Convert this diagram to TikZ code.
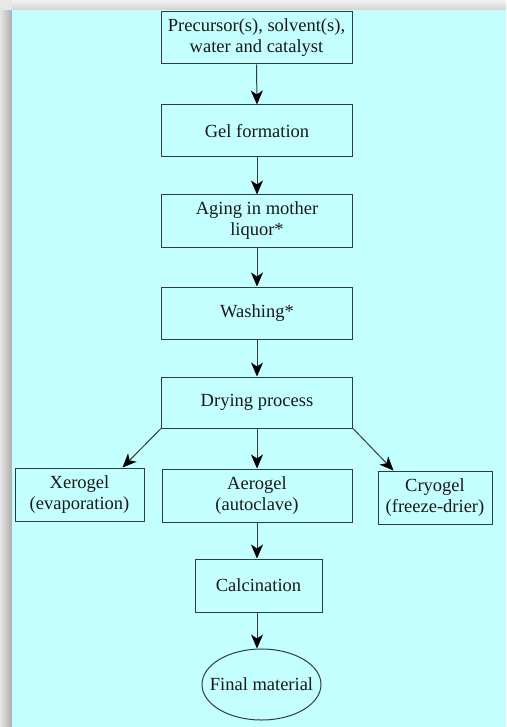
\documentclass[tikz,border=0pt]{standalone}
\usepackage{fontspec}
\setmainfont{Liberation Serif}
\usetikzlibrary{arrows.meta,shapes.geometric,calc}
\definecolor{panel}{RGB}{196,255,255}
\definecolor{ink}{RGB}{25,25,25}
\definecolor{edge}{RGB}{50,60,60}
\begin{document}
\begin{tikzpicture}[x=1pt,y=-1pt,
  box/.style={draw=edge,line width=1pt,rectangle,align=center,text=ink,
    font=\fontsize{18.5}{21}\selectfont,inner sep=0pt},
  oval/.style={draw=edge,line width=1pt,ellipse,align=center,text=ink,
    font=\fontsize{18.5}{21}\selectfont,inner sep=0pt},
  arr/.style={draw=edge,line width=1pt,-{Stealth[length=14pt,width=12pt,inset=4pt,fill=black,color=black]}}]
\useasboundingbox (0,0) rectangle (506,727);
% shadow
\shade[left color=gray!20,right color=gray!65] (0,10) rectangle (12,727);
\shade[top color=gray!10,bottom color=gray!35] (12,0) rectangle (506,10);
\fill[gray!18] (0,0) rectangle (12,10);
\fill[panel] (12,10) rectangle (506,727);
% nodes
\node[box,minimum width=191pt,minimum height=52pt] (b1) at (256.5,38) {Precursor(s), solvent(s),\\water and catalyst};
\node[box,minimum width=191pt,minimum height=52pt] (b2) at (257,131) {Gel formation};
\node[box,minimum width=191pt,minimum height=52pt] (b3) at (257,221) {Aging in mother\\liquor*};
\node[box,minimum width=191pt,minimum height=52pt] (b4) at (257,313) {Washing*};
\node[box,minimum width=191pt,minimum height=51pt] (b5) at (257,402.5) {Drying process};
\node[box,minimum width=129pt,minimum height=53pt] (xero) at (79.5,494.5) {Xerogel\\(evaporation)};
\node[box,minimum width=190pt,minimum height=53pt] (aero) at (257,495.5) {Aerogel\\(autoclave)};
\node[box,minimum width=114pt,minimum height=53pt] (cryo) at (435,497.5) {Cryogel\\(freeze-drier)};
\node[box,minimum width=127pt,minimum height=53pt] (calc) at (258.5,585.5) {Calcination};
\node[oval,minimum width=119pt,minimum height=71pt] (final) at (261.5,684.5) {\makebox[0pt]{Final material}};
% connectors
\draw[arr] (b1.south) -- (b2.north);
\draw[arr] (b2.south) -- (b3.north);
\draw[arr] (b3.south) -- (b4.north);
\draw[arr] (b4.south) -- (b5.north);
\draw[arr] (b5.south west) -- ([xshift=-22pt]xero.north east);
\draw[arr] (b5.south) -- (aero.north);
\draw[arr] (b5.south east) -- ([xshift=16pt]cryo.north west);
\draw[arr] (aero.south) -- (aero.south |- calc.north);
\draw[arr] (aero.south |- calc.south) -- (aero.south |- final.north);
\end{tikzpicture}
\end{document}
